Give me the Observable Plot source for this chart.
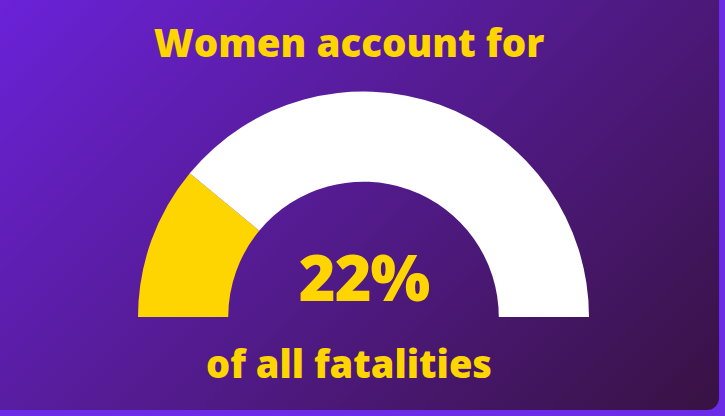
<!DOCTYPE html>
<html>
<head>
<meta charset="utf-8">
<script src="https://cdn.jsdelivr.net/npm/d3@7"></script>
<script src="https://cdn.jsdelivr.net/npm/@observablehq/plot@0.6"></script>
<style>
  html, body { margin: 0; padding: 0; width: 725px; height: 416px; overflow: hidden; background: #6c2be6; }
  #card {
    position: absolute; left: -12px; top: -12px; width: 731px; height: 422px;
    border-radius: 12px;
    background: linear-gradient(135deg, #6c22dc 0%, #531b8e 50%, #381242 100%);
  }
  #chart { position: absolute; left: 0; top: 0; }
  .big-value text { letter-spacing: -1px; }
</style>
</head>
<body>
<div id="card"></div>
<div id="chart"></div>
<script>
// Data
const segments = ["Women", "Others"];
const shares = [22, 78];
const headline = ["Women account for"];
const valueLabel = ["22%"];
const footline = ["of all fatalities"];

const total = d3.sum(shares);
const gaugeData = segments.map((s, i) => ({segment: s, share: shares[i]}));
const segColors = {Women: "#ffd500", Others: "#ffffff"};
const innerRatio = 0.6;
const FONT = "'Open Sans', 'DejaVu Sans', sans-serif";
const GOLD = "#ffd500";

function gaugeMark(index, scales) {
  const cx = scales.x(0), cy = scales.y(0);
  const R = scales.x(1) - cx;
  const g = d3.create("svg:g").attr("transform", `translate(${cx},${cy})`);
  let acc = 0;
  const arc = d3.arc().innerRadius(R * innerRatio).outerRadius(R);
  for (const d of gaugeData) {
    const a0 = -Math.PI / 2 + Math.PI * acc / total;
    acc += d.share;
    const a1 = -Math.PI / 2 + Math.PI * acc / total;
    g.append("path")
      .attr("d", arc({startAngle: a0, endAngle: a1}))
      .attr("fill", segColors[d.segment]);
  }
  return g.node();
}

const chart = Plot.plot({
  width: 725,
  height: 416,
  margin: 0,
  x: {domain: [-1, 1], range: [138, 589], axis: null},
  y: {domain: [0, 1], range: [317, 91.5], axis: null},
  style: {background: "transparent", overflow: "visible"},
  marks: [
    gaugeMark,
    Plot.text(valueLabel, {x: () => 0, y: () => 0, text: d => d, fill: GOLD, className: "big-value",
      fontSize: 63, fontWeight: 800, fontFamily: FONT, lineAnchor: "bottom", dy: -17}),
    Plot.text(headline, {frameAnchor: "top", text: d => d, fill: GOLD,
      fontSize: 38.5, fontWeight: 800, fontFamily: FONT, lineAnchor: "top", dx: -14, dy: 29}),
    Plot.text(footline, {frameAnchor: "bottom", text: d => d, fill: GOLD,
      fontSize: 38, fontWeight: 800, fontFamily: FONT, lineAnchor: "bottom", dx: -14, dy: -39})
  ]
});
document.getElementById("chart").appendChild(chart);
</script>
</body>
</html>
